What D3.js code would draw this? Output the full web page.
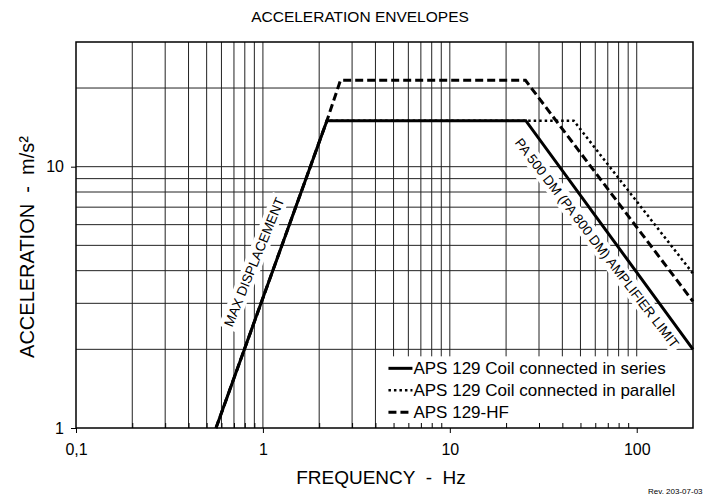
<!DOCTYPE html>
<html>
<head>
<meta charset="utf-8">
<script src="https://d3js.org/d3.v7.min.js"></script>
<style>
  body { margin: 0; background: #fff; }
  text { font-family: Arial, "Liberation Sans", sans-serif; white-space: pre; }
</style>
</head>
<body>
<svg width="704" height="497"></svg>
<script>
// chart values
const xTicks = [0.1, 1, 10, 100];
const xTickLabels = ["0,1", "1", "10", "100"];
const yTicks = [1, 10];
const yTickLabels = ["1", "10"];
const xGrid = [0.2,0.3,0.4,0.5,0.6,0.7,0.8,0.9,1,2,3,4,5,6,7,8,9,10,20,30,40,50,60,70,80,90,100];
const yGrid = [2,3,4,5,6,7,8,9,10,20];

const seriesNames = ["APS 129 Coil connected in series", "APS 129 Coil connected in parallel", "APS 129-HF"];
const seriesDash = ["none", "2.5,3", "8,4"];
const seriesFreq = [
  [0.561, 2.2, 25.5, 200],
  [0.561, 2.2, 46, 200],
  [0.561, 2.2, 2.6, 25.4, 200]
];
const seriesAccel = [
  [1, 15, 15, 2],
  [1, 15, 15, 3.9],
  [1, 15, 21.4, 21.4, 3.05]
];

const svg = d3.select('svg');
const m = {left: 76, top: 42, right: 11, bottom: 69};
const W = 704 - m.left - m.right, H = 497 - m.top - m.bottom;

const x = d3.scaleLog().domain([0.1, 200]).range([0, W]);
const y = d3.scaleLog().domain([1, 30]).range([H, 0]);

const g = svg.append('g').attr('transform', `translate(${m.left},${m.top})`);

// grid
g.append('g').selectAll('line').data(xGrid).enter().append('line')
  .attr('x1', d => x(d)).attr('x2', d => x(d))
  .attr('y1', 0).attr('y2', H)
  .attr('stroke', '#222').attr('stroke-width', 1);
g.append('g').selectAll('line').data(yGrid).enter().append('line')
  .attr('x1', 0).attr('x2', W)
  .attr('y1', d => y(d)).attr('y2', d => y(d))
  .attr('stroke', '#222').attr('stroke-width', 1);

// annotation boxes (white behind text)
function note(txt, cx, cy, angle) {
  const a = g.append('g').attr('transform', `translate(${cx},${cy}) rotate(${angle})`);
  const t = a.append('text').text(txt)
    .attr('text-anchor', 'middle').attr('dy', '0.35em')
    .style('font-size', '13.5px');
  const w = t.node().getComputedTextLength();
  a.insert('rect', 'text').attr('x', -w/2 - 3).attr('y', -9).attr('width', w + 6).attr('height', 18)
    .attr('fill', '#fff');
}
note("MAX DISPLACEMENT", 254 - m.left, 262 - m.top, -67.7);
note("PA 500 DM (PA 800 DM) AMPLIFIER LIMIT", 597 - m.left, 243 - m.top, 52.5);

// legend background
const lx = x(4) + 1, ly = y(2) + 7;
g.append('rect').attr('x', lx).attr('y', ly).attr('width', W - lx).attr('height', H - ly)
  .attr('fill', '#fff');

// minor ticks inside x axis
const minors = [];
[0.1, 1, 10, 100].forEach(b => { for (let k = 2; k <= 9; k++) if (b * k < 200) minors.push(b * k); });
g.append('g').attr('transform', `translate(0,${H})`)
  .call(d3.axisBottom(x).tickValues(minors).tickSize(-5).tickFormat(''))
  .call(s => s.select('.domain').remove());

// series lines
const line = d3.line().x(d => x(d[0])).y(d => y(d[1]));
[1, 2, 0].forEach(i => {
  const pts = seriesFreq[i].map((f, j) => [f, seriesAccel[i][j]]);
  g.append('path').datum(pts).attr('d', line)
    .attr('fill', 'none').attr('stroke', '#000')
    .attr('stroke-width', i === 1 ? 2.5 : 3)
    .attr('stroke-dasharray', seriesDash[i])
    .attr('stroke-linejoin', 'miter');
});

// axes
const xa = g.append('g').attr('transform', `translate(0,${H})`)
  .call(d3.axisBottom(x).tickValues(xTicks).tickSize(5).tickPadding(11)
    .tickFormat((d, i) => xTickLabels[i]));
xa.select('.domain').remove();
xa.selectAll('text').style('font-size', '16px').attr('fill', '#000');
const ya = g.append('g')
  .call(d3.axisLeft(y).tickValues(yTicks).tickSize(5).tickPadding(7)
    .tickFormat((d, i) => yTickLabels[i]));
ya.select('.domain').remove();
ya.selectAll('text').style('font-size', '16px').attr('fill', '#000');

// plot frame
g.append('rect').attr('width', W).attr('height', H)
  .attr('fill', 'none').attr('stroke', '#000').attr('stroke-width', 1.5);

// legend
const leg = g.append('g').attr('transform', `translate(${lx + 12},${ly + 12})`);
seriesNames.forEach((name, i) => {
  const row = leg.append('g').attr('transform', `translate(0,${i * 22})`);
  row.append('line').attr('x1', 0).attr('x2', 24).attr('y1', 0).attr('y2', 0)
    .attr('stroke', '#000').attr('stroke-width', i === 1 ? 2.5 : 3)
    .attr('stroke-dasharray', seriesDash[i]);
  row.append('text').attr('x', 25).attr('dy', '0.35em').text(name)
    .style('font-size', '17px');
});

// titles
svg.append('text').attr('x', 360).attr('y', 22).attr('text-anchor', 'middle')
  .style('font-size', '15.5px').text('ACCELERATION ENVELOPES');
svg.append('text').attr('x', 381).attr('y', 484).attr('text-anchor', 'middle')
  .style('font-size', '19px').text('FREQUENCY  -  Hz');
svg.append('text').attr('transform', 'translate(34,247) rotate(-90)')
  .attr('text-anchor', 'middle').style('font-size', '20px').text('ACCELERATION  -  m/s²');
svg.append('text').attr('x', 648).attr('y', 494).style('font-size', '8px').text('Rev. 203-07-03');
</script>
</body>
</html>
